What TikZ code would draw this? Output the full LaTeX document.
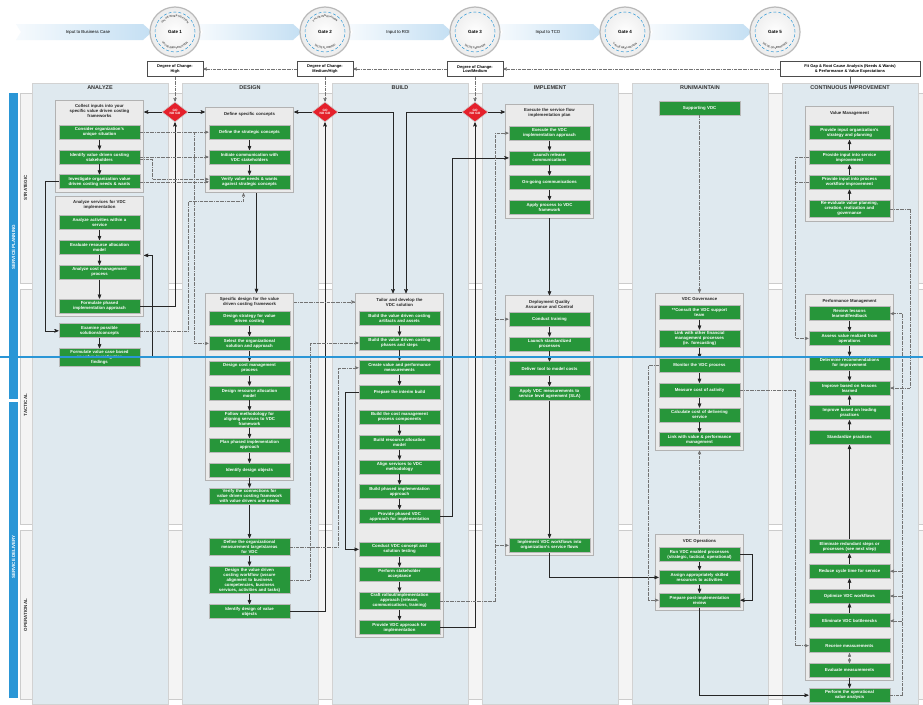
\documentclass[tikz,border=0pt]{standalone}
\usepackage{fontspec}
\setmainfont{Liberation Sans}
\usetikzlibrary{arrows,positioning,fit,backgrounds,shapes.geometric,decorations.text}

\definecolor{vdcgreen}{HTML}{27963A}
\definecolor{panelblue}{HTML}{DFE9EF}
\definecolor{rowgray}{HTML}{F4F4F4}
\definecolor{boxgray}{HTML}{EBEBEB}
\definecolor{bandblue}{HTML}{2A96D6}
\definecolor{gored}{HTML}{E5202B}
\definecolor{chevron}{HTML}{C4DFF3}

\pgfdeclarelayer{panels}
\pgfsetlayers{panels,background,main}

\newcommand{\gatetxt}{\fontsize{2.6}{3}\selectfont\bfseries\color{black!70}}

\begin{document}
\begin{tikzpicture}[
    x=1pt, y=-1pt,
    >=stealth',
    node distance=10pt,
    font=\bfseries,
    task/.style={draw=gray!55, line width=0.8pt, fill=vdcgreen, text=white,
      font=\fontsize{4.3}{5}\selectfont\bfseries, text width=76pt, align=center,
      inner xsep=2.5pt, inner ysep=1.8pt, minimum height=14pt},
    gtitle/.style={font=\fontsize{4.3}{5}\selectfont\bfseries, text=black!85,
      text width=80pt, align=center, inner sep=1pt},
    group/.style={draw=gray!60, line width=0.8pt, fill=boxgray, inner sep=3pt},
    header/.style={font=\fontsize{5.5}{6}\selectfont\bfseries, text=black!80},
    rowlabel/.style={rotate=90, font=\fontsize{4.5}{5}\selectfont\bfseries, text=black!80},
    bandlabel/.style={rotate=90, font=\fontsize{4.5}{5}\selectfont\bfseries, text=white},
    gonogo/.style={diamond, fill=gored, draw=gray!40, line width=0.6pt, minimum width=26pt,
      minimum height=20pt, inner sep=0pt, text=white, align=center,
      font=\fontsize{3.2}{3.6}\selectfont\bfseries},
    gate/.style={circle, draw=gray!55, line width=1.2pt, inner color=white, outer color=gray!15,
      minimum size=50pt, inner sep=0pt, font=\fontsize{4.5}{5}\selectfont\bfseries},
    gatering/.style={draw=bandblue, densely dashed, line width=0.5pt},
    degree/.style={draw=black!70, fill=white, line width=0.5pt, align=center,
      font=\fontsize{4}{4.8}\selectfont\bfseries, inner sep=1.5pt, minimum height=15pt, minimum width=56pt},
    inlabel/.style={font=\fontsize{4.3}{5}\selectfont\mdseries},
    flow/.style={->, draw=black!85, line width=0.6pt},
    link/.style={->, draw=black!55, densely dashdotted, line width=0.45pt}
  ]
  \useasboundingbox (0,0) rectangle (923,704);

  % lanes, columns and the value chain band
  \begin{pgfonlayer}{panels}
    \fill[white] (0,0) rectangle (923,704);
    \foreach \ya/\yb in {93/283, 289/524, 530/699}
      \filldraw[fill=rowgray, draw=gray!40] (20,\ya) rectangle (923,\yb);
    \fill[bandblue] (9,93) rectangle (18,399);
    \fill[bandblue] (9,402) rectangle (18,698);
    \foreach \k in {0,...,5}
      \filldraw[fill=panelblue, draw=gray!35] (32+150*\k,83) rectangle (168+150*\k,704);
    \foreach \ax/\bx in {16/152, 198/302, 348/452, 498/602, 648/752}
      \shade[left color=chevron!15, right color=chevron] (\ax,24) -- (\bx-9,24) -- (\bx,32)
        -- (\bx-9,40) -- (\ax,40) -- (\ax+5,32) -- cycle;
  \end{pgfonlayer}

  \node[header] (hana) at (100,88) {ANALYZE};
  \node[header] (hdes) at (250,88) {DESIGN};
  \node[header] (hbui) at (400,88) {BUILD};
  \node[header] (himp) at (550,88) {IMPLEMENT};
  \node[header] (hrun) at (700,88) {RUN/MAINTAIN};
  \node[header] (hcon) at (850,88) {CONTINUOUS IMPROVEMENT};

  \node[rowlabel] (strat) at (25.5,188) {STRATEGIC};
  \node[rowlabel] (tact) at (25.5,405) {TACTICAL};
  \node[rowlabel] (oper) at (25.5,615) {OPERATIONAL};
  \node[bandlabel] (splan) at (13.5,247) {SERVICE PLANNING};
  \node[bandlabel] (sdeliv) at (13.5,557) {SERVICE DELIVERY};

  % gates
  \foreach \gx/\gid in {175/1,325/2,475/3,625/4,775/5} {
    \node[gate] (g\gid) at (\gx,32) {Gate \gid};
    \draw[gatering] (g\gid) circle[radius=20pt];
  }
  \path[decorate, decoration={text along path, text align=center, text={|\gatetxt|VALUE INVESTIGATION}}]
    (g1) ++(178:15pt) arc[start angle=178, end angle=2, radius=15pt];
  \path[decorate, decoration={text along path, text align=center, text={|\gatetxt|VALUE IDENTIFICATION}}]
    (g1) ++(184:17pt) arc[start angle=184, end angle=356, radius=17pt];
  \path[decorate, decoration={text along path, text align=center, text={|\gatetxt|VALUE INNOVATION}}]
    (g2) ++(178:15pt) arc[start angle=178, end angle=2, radius=15pt];
  \path[decorate, decoration={text along path, text align=center, text={|\gatetxt|VALUE PLANNING}}]
    (g2) ++(184:17pt) arc[start angle=184, end angle=356, radius=17pt];
  \path[decorate, decoration={text along path, text align=center, text={|\gatetxt|VALUE CREATION}}]
    (g3) ++(184:17pt) arc[start angle=184, end angle=356, radius=17pt];
  \path[decorate, decoration={text along path, text align=center, text={|\gatetxt|VALUE REALIZATION}}]
    (g4) ++(184:17pt) arc[start angle=184, end angle=356, radius=17pt];
  \path[decorate, decoration={text along path, text align=center, text={|\gatetxt|VALUE GOVERNANCE}}]
    (g5) ++(184:17pt) arc[start angle=184, end angle=356, radius=17pt];

  \node[inlabel] (in1) at (88,32) {Input to Business Case};
  \node[inlabel] (in2) at (398,32) {Input to ROI};
  \node[inlabel] (in3) at (548,32) {Input to TCO};

  \node[degree] (dc1) at (175,69) {Degree of Change:\\High};
  \node[degree] (dc2) at (325,69) {Degree of Change:\\Medium/High};
  \node[degree] (dc3) at (475,69) {Degree of Change:\\Low/Medium};
  \node[degree, minimum width=140pt] (dc4) at (850,69) {Fit Gap \& Root Cause Analysis (Needs \& Wants)\\\& Performance \& Value Expectations};
  \coordinate (citick) at (850,84);

  \foreach \gx/\gid in {175/1,325/2,475/3}
    \node[gonogo] (gn\gid) at (\gx,112) {GO\\NO GO};

  % ANALYZE
  \node[gtitle] (ca) at (99.5,111) {Collect inputs into your\\specific value driven costing\\frameworks};
  \node[task, below=6pt of ca] (consider) {Consider organization's\\unique situation};
  \node[task, below=of consider] (identify) {Identify value driven costing\\stakeholders};
  \node[task, below=of identify] (investig) {Investigate organization value\\driven costing needs \& wants};
  \node[gtitle] (aa) at (99.5,205) {Analyze services for VDC\\implementation};
  \node[task, below=4.5pt of aa] (actsvc) {Analyze activities within a\\service};
  \node[task, below=of actsvc] (evalres) {Evaluate resource allocation\\model};
  \node[task, below=of evalres] (costproc) {Analyze cost management\\process};
  \node[task, below=19pt of costproc] (formphase) {Formulate phased\\implementation approach};
  \node[task, below=of formphase] (examine) {Examine possible\\solutions/concepts};
  \node[task, below=of examine] (fvcase) {Formulate value case based\\on value investigation\\findings};

  % DESIGN
  \node[gtitle] (defconc) at (249.5,114) {Define specific concepts};
  \node[task, below=8pt of defconc] (defstrat) {Define the strategic concepts};
  \node[task, below=of defstrat] (initcomm) {Initiate communication with\\VDC stakeholders};
  \node[task, below=of initcomm] (verneeds) {Verify value needs \& wants\\against strategic concepts};
  \node[gtitle] (specdes) at (249.5,302) {Specific design for the value\\driven costing framework};
  \node[task, below=3.5pt of specdes] (desstrat) {Design strategy for value\\driven costing};
  \node[task, below=of desstrat] (selsol) {Select the organizational\\solution and approach};
  \node[task, below=of selsol] (descost) {Design cost management\\process};
  \node[task, below=of descost] (desres) {Design resource allocation\\model};
  \node[task, below=of desres] (follow) {Follow methodology for\\aligning services to VDC\\framework};
  \node[task, below=of follow] (planphase) {Plan phased implementation\\approach};
  \node[task, below=of planphase] (idobj) {Identify design objects};
  \node[task, below=of idobj] (verconn) {Verify the connections for\\value driven costing framework\\with value drivers and needs};
  \node[task, below=33pt of verconn] (defmeas) {Define the organizational\\measurement targets/areas\\for VDC};
  \node[task, below=of defmeas] (desflow) {Design the value driven\\costing workflow (assure\\alignment to business\\competencies, business\\services, activities and tasks)};
  \node[task, below=of desflow] (idval) {Identify design of value\\objects};

  % BUILD
  \node[gtitle] (tailor) at (399.5,302) {Tailor and develop the\\VDC solution};
  \node[task, below=3.5pt of tailor] (bartif) {Build the value driven costing\\artifacts and assets};
  \node[task, below=of bartif] (bphase) {Build the value driven costing\\phases and steps};
  \node[task, below=of bphase] (createm) {Create value and performance\\measurements};
  \node[task, below=of createm] (interim) {Prepare the interim build};
  \node[task, below=of interim] (bcost) {Build the cost management\\process components};
  \node[task, below=of bcost] (bres) {Build resource allocation\\model};
  \node[task, below=of bres] (align) {Align services to VDC\\methodology};
  \node[task, below=of align] (bphased) {Build phased implementation\\approach};
  \node[task, below=of bphased] (provphased) {Provide phased VDC\\approach for implementation};
  \node[task, below=18pt of provphased] (conduct) {Conduct VDC concept and\\solution testing};
  \node[task, below=of conduct] (accept) {Perform stakeholder\\acceptance};
  \node[task, below=of accept] (craft) {Craft rollout/implementation\\approach (release,\\communications, training)};
  \node[task, below=of craft] (provimpl) {Provide VDC approach for\\implementation};

  % IMPLEMENT
  \node[gtitle] (execplan) at (549.5,113) {Execute the service flow\\implementation plan};
  \node[task, below=7pt of execplan] (execvdc) {Execute the VDC\\implementation approach};
  \node[task, below=of execvdc] (launchrel) {Launch release\\communications};
  \node[task, below=of launchrel] (ongoing) {On-going communications};
  \node[task, below=of ongoing] (applyproc) {Apply process to VDC\\framework};
  \node[gtitle] (dqa) at (549.5,304) {Deployment Quality\\Assurance and Control};
  \node[task, below=2.5pt of dqa] (training) {Conduct training};
  \node[task, below=of training] (launchstd) {Launch standardized\\processes};
  \node[task, below=of launchstd] (delivtool) {Deliver tool to model costs};
  \node[task, below=of delivtool] (applysla) {Apply VDC measurements to\\service level agreement (SLA)};
  \node[task, below=137pt of applysla] (implflow) {Implement VDC workflows into\\organization's service flows};

  % RUN/MAINTAIN
  \node[task] (support) at (699.5,108) {Supporting VDC};
  \node[gtitle] (gov) at (699.5,299) {VDC Governance};
  \node[task, below=3pt of gov] (consult) {**Consult the VDC support\\team};
  \node[task, below=of consult] (linkfin) {Link with other financial\\management processes\\(ie. forecasting)};
  \node[task, below=of linkfin] (monitor) {Monitor the VDC process};
  \node[task, below=of monitor] (measure) {Measure cost of activity};
  \node[task, below=of measure] (calccost) {Calculate cost of delivering\\service};
  \node[task, below=of calccost] (linkval) {Link with value \& performance\\management};
  \node[gtitle] (ops) at (699.5,541) {VDC Operations};
  \node[task, below=3pt of ops] (runvdc) {Run VDC enabled processes\\(strategic, tactical, operational)};
  \node[task, below=8pt of runvdc] (assign) {Assign appropriately skilled\\resources to activities};
  \node[task, below=8pt of assign] (prepare) {Prepare post-implementation\\review};

  % CONTINUOUS IMPROVEMENT
  \node[gtitle] (valmgmt) at (849.5,113) {Value Management};
  \node[task, below=9pt of valmgmt] (inorg) {Provide input organization's\\strategy and planning};
  \node[task, below=of inorg] (insvc) {Provide input into service\\improvement};
  \node[task, below=of insvc] (inproc) {Provide input into process\\workflow improvement};
  \node[task, below=of inproc] (reeval) {Re-evaluate value planning,\\creation, realization and\\governance};
  \node[gtitle] (perfmgmt) at (849.5,301) {Performance Management};
  \node[task, below=2pt of perfmgmt] (review) {Review lessons\\learned/feedback};
  \node[task, below=of review] (assess) {Assess value realized from\\operations};
  \node[task, below=of assess] (determine) {Determine recommendations\\for improvement};
  \node[task, below=of determine] (implless) {Improve based on lessons\\learned};
  \node[task, below=of implless] (implpract) {Improve based on leading\\practices};
  \node[task, below=of implpract] (standard) {Standardize practices};
  \node[task, below=94pt of standard] (elimred) {Eliminate redundant steps or\\processes (see next step)};
  \node[task, below=of elimred] (reduce) {Reduce cycle time for service};
  \node[task, below=of reduce] (optim) {Optimize VDC workflows};
  \node[task, below=of optim] (elimbot) {Eliminate VDC bottlenecks};
  \node[task, below=of elimbot] (receive) {Receive measurements};
  \node[task, below=of receive] (evaluate) {Evaluate measurements};
  \node[task, below=of evaluate] (perform) {Perform the operational\\value analysis};

  % grey process containers
  \begin{scope}[on background layer]
    \node[group, fit=(ca)(investig)] (A1) {};
    \node[group, fit=(aa)(formphase)] (A2) {};
    \node[group, fit=(defconc)(verneeds)] (D1) {};
    \node[group, fit=(specdes)(idobj)] (D2) {};
    \node[group, fit=(tailor)(provimpl)] (B1) {};
    \node[group, fit=(execplan)(applyproc)] (I1) {};
    \node[group, fit=(dqa)(implflow)] (I2) {};
    \node[group, fit=(gov)(linkval)] (G1) {};
    \node[group, fit=(ops)(prepare)] (O1) {};
    \node[group, fit=(valmgmt)(reeval)] (V1) {};
    \node[group, fit=(perfmgmt)(evaluate)] (P1) {};
  \end{scope}

  % steps inside the columns
  \foreach \a/\b in {consider/identify, identify/investig, actsvc/evalres, evalres/costproc,
      costproc/formphase, examine/fvcase, defstrat/initcomm, initcomm/verneeds, desstrat/selsol,
      selsol/descost, descost/desres, desres/follow, follow/planphase, planphase/idobj,
      idobj/verconn, verconn/defmeas, defmeas/desflow, desflow/idval, bartif/bphase,
      bphase/createm, createm/interim, bcost/bres, bres/align, align/bphased,
      bphased/provphased, conduct/accept, accept/craft, craft/provimpl, execvdc/launchrel,
      launchrel/ongoing, ongoing/applyproc, training/launchstd, launchstd/delivtool,
      delivtool/applysla, applysla/implflow, consult/linkfin, linkfin/monitor,
      monitor/measure, measure/calccost, calccost/linkval, runvdc/assign, assign/prepare,
      insvc/inorg, inproc/insvc, reeval/inproc, review/assess, assess/determine,
      determine/implless, implpract/implless, standard/implpract, elimred/standard,
      reduce/elimred, optim/reduce, elimbot/optim, evaluate/perform}
    \draw[flow] (\a) -- (\b);

  % gates and decisions
  \draw[link] (dc4) -- (dc3);
  \draw[link] (dc3) -- (dc2);
  \draw[link] (dc2) -- (dc1);
  \foreach \gid in {1,2,3}
    \draw[link] (dc\gid) -- (gn\gid);
  \draw[black!60, line width=0.5pt] (dc4) -- (citick);

  \draw[flow] (gn1.west) -- (gn1 -| A1.east);
  \draw[flow] (gn1.east) -- (gn1 -| D1.west);
  \draw[flow] (gn2.west) -- (gn2 -| D1.east);
  \draw[flow] (gn2.east) -| ([xshift=-6.5pt]B1.north);
  \draw[flow] (gn3.west) -| ([xshift=6.5pt]B1.north);
  \draw[flow] (gn3.east) -- (gn3 -| I1.west);
  \draw[flow] (formphase.east) -| (gn1.south);
  \draw[flow] (idval.east) -| (gn2.south);
  \draw[flow] (provimpl.east) -| (gn3.south);

  % solid hand-offs
  \draw[flow] (investig.west) -- ++(-13,0) |- (examine.west);
  \draw[flow] (fvcase.east) -- ++(12,0) |- ([yshift=-8pt]evalres.east -| A2.east);
  \draw[flow] ([xshift=7pt]D1.south) -- ([xshift=7pt]D2.north);
  \draw[flow] (interim.west) -- ++(-13,0) |- (conduct.west);
  \draw[flow] (provphased.east) -- ++(12,0) |- (launchrel.west);
  \draw[flow] (I1.south) -- (I2.north);
  \draw[flow] (implflow.south) |- (assign.west);
  \draw[flow] (runvdc.east) -- ++(12,0) |- (prepare.east);
  \draw[flow] (prepare.south) |- (perform.west);

  % dashed information links
  \draw[link] (consider.east) -- (consider.east -| defstrat.west);
  \draw[link] ([xshift=54pt]consider.east) |- (selsol.west);
  \draw[link] (identify.east) -- (identify.east -| initcomm.west);
  \draw[link] ([yshift=-2pt]identify.east) -- ++(12,0) |- ([yshift=3pt]verneeds.west);
  \draw[link] (investig.east) -- (investig.east -| verneeds.west);
  \draw[link] (examine.east) -| ([xshift=-61pt,yshift=-8pt]D1.south) -| ([xshift=-6pt]D1.south);
  \draw[link] (specdes -| D2.east) -- (tailor -| B1.west);
  \draw[link] (desflow.east) -- ++(20,0) |- (bphase.west);
  \draw[link] (defmeas.east) -- ++(48,0) |- (createm.west);
  \coordinate (ctrunk) at ([xshift=-13pt]execvdc.west);
  \draw[link] (craft.east) -| (ctrunk) -- (execvdc.west);
  \draw[link] (ctrunk |- training) -- (training.west);
  \draw[link] (ctrunk |- implflow) -- (implflow.west);
  \draw[link] (support) -- (G1);
  \draw[link] (O1) -- (G1);
  \draw[link] (monitor.west) -- ++(-10,0) |- (prepare.west);
  \draw[link] (measure.east) -| ([xshift=-13pt]receive.west) -- (receive.west);
  \draw[link] (insvc.west) -- ++(-13,0) |- (assess.west);
  \draw[link, -] (inproc.west) -- ++(-13,0);
  \coordinate (ptrunk) at ([xshift=12pt]review.east);
  \draw[link] (perform.east) -| (ptrunk) -- (review.east);
  \draw[link] (ptrunk |- reduce) -- (reduce.east);
  \draw[link] (ptrunk |- optim) -- (optim.east);
  \draw[link] (ptrunk |- elimbot) -- (elimbot.east);
  \draw[link] (reeval.east) -| ([xshift=20pt]implless.east) -- (implless.east);
  \draw[link, <->] (receive) -- (evaluate);

  % planning / delivery divide
  \draw[bandblue, line width=2.2pt] (0,357) -- (923,357);
\end{tikzpicture}
\end{document}
